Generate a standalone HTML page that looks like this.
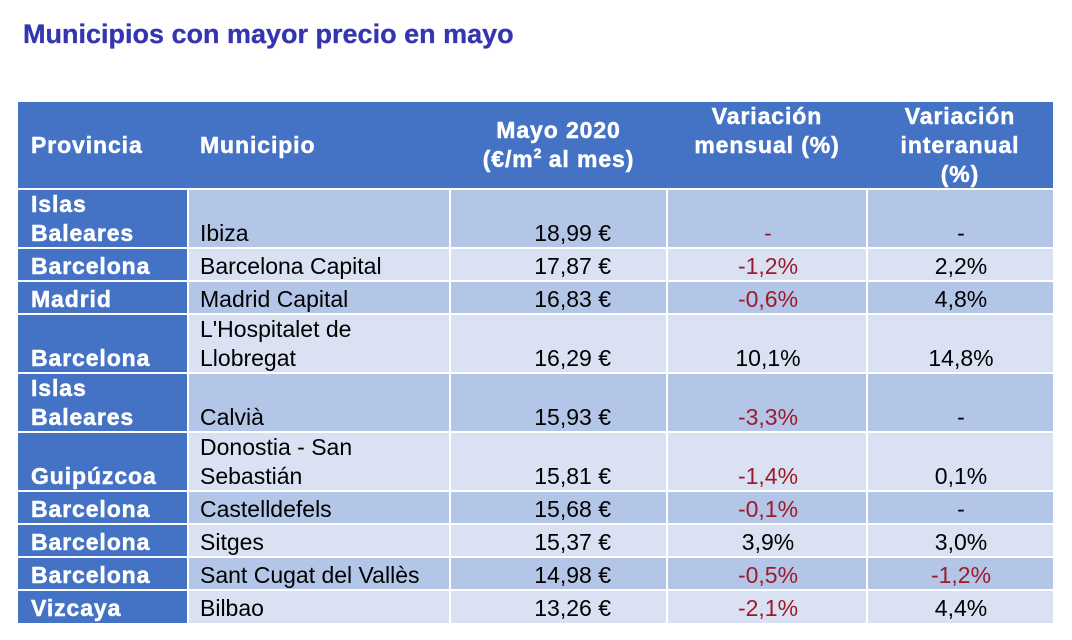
<!DOCTYPE html>
<html>
<head>
<meta charset="utf-8">
<style>
  html, body { margin:0; padding:0; }
  body { width:1072px; height:640px; background:#ffffff; position:relative; overflow:hidden;
         font-family:"Liberation Sans", Arial, sans-serif; }
  .title { position:absolute; left:23px; top:14px; font-size:27px; font-weight:bold; color:#3535B0;
           line-height:40px; white-space:nowrap; -webkit-text-stroke:0.3px #3535B0; }
  .bg { position:absolute; }
  .hl { position:absolute; left:18px; width:1035px; height:2px; background:#ffffff; }
  .vl { position:absolute; top:189px; height:434px; width:2px; background:#ffffff; }
  .c { position:absolute; display:flex; flex-direction:column; justify-content:flex-end;
       font-size:23px; line-height:29px; color:#000; white-space:nowrap; }
  .p { left:31px; width:155px; color:#fff; font-weight:bold; letter-spacing:0.9px; -webkit-text-stroke:0.5px #fff; }
  .m { left:200px; width:248px; }
  .v { left:452px; width:159px; text-align:right; }
  .a { left:669px; width:198px; text-align:center; }
  .b { left:869px; width:184px; text-align:center; }
  .r { color:#9E1A2A; }
  .h { position:absolute; color:#fff; font-weight:bold; font-size:23px; line-height:29px;
       letter-spacing:0.9px; white-space:nowrap; -webkit-text-stroke:0.5px #fff; }
  sup { font-size:14px; line-height:0; vertical-align:9px; letter-spacing:0; }
</style>
</head>
<body>
<div class="title">Municipios con mayor precio en mayo</div>

<!-- header -->
<div class="bg" style="left:18px;top:102px;width:1035px;height:87px;background:#4472C4;"></div>
<!-- first column -->
<div class="bg" style="left:18px;top:189px;width:170px;height:434px;background:#4472C4;"></div>
<!-- row backgrounds -->
<div class="bg" style="left:188px;top:189px;width:865px;height:59px;background:#B4C6E7;"></div>
<div class="bg" style="left:188px;top:248px;width:865px;height:33px;background:#D9E1F2;"></div>
<div class="bg" style="left:188px;top:281px;width:865px;height:33px;background:#B4C6E7;"></div>
<div class="bg" style="left:188px;top:314px;width:865px;height:59px;background:#D9E1F2;"></div>
<div class="bg" style="left:188px;top:373px;width:865px;height:59px;background:#B4C6E7;"></div>
<div class="bg" style="left:188px;top:432px;width:865px;height:59px;background:#D9E1F2;"></div>
<div class="bg" style="left:188px;top:491px;width:865px;height:33px;background:#B4C6E7;"></div>
<div class="bg" style="left:188px;top:524px;width:865px;height:33px;background:#D9E1F2;"></div>
<div class="bg" style="left:188px;top:557px;width:865px;height:33px;background:#B4C6E7;"></div>
<div class="bg" style="left:188px;top:590px;width:865px;height:33px;background:#D9E1F2;"></div>

<!-- grid lines -->
<div class="hl" style="top:188px;"></div>
<div class="hl" style="top:247px;"></div>
<div class="hl" style="top:280px;"></div>
<div class="hl" style="top:313px;"></div>
<div class="hl" style="top:372px;"></div>
<div class="hl" style="top:431px;"></div>
<div class="hl" style="top:490px;"></div>
<div class="hl" style="top:523px;"></div>
<div class="hl" style="top:556px;"></div>
<div class="hl" style="top:589px;"></div>
<div class="vl" style="left:187px;"></div>
<div class="vl" style="left:449px;"></div>
<div class="vl" style="left:666px;"></div>
<div class="vl" style="left:866px;"></div>

<!-- header text -->
<div class="h" style="left:31px;top:131px;">Provincia</div>
<div class="h" style="left:200px;top:131px;">Municipio</div>
<div class="h" style="left:450px;width:217px;top:116px;text-align:center;">Mayo 2020<br>(€/m<sup>2</sup> al mes)</div>
<div class="h" style="left:667px;width:200px;top:102px;text-align:center;">Variación<br>mensual (%)</div>
<div class="h" style="left:867px;width:186px;top:102px;text-align:center;">Variación<br>interanual<br>(%)</div>

<!-- row 1 -->
<div class="c p" style="top:189px;height:59px;">Islas<br>Baleares</div>
<div class="c m" style="top:189px;height:59px;"><span>Ibiza</span></div>
<div class="c v" style="top:189px;height:59px;"><span>18,99 €</span></div>
<div class="c a r" style="top:189px;height:59px;"><span>-</span></div>
<div class="c b" style="top:189px;height:59px;"><span>-</span></div>
<!-- row 2 -->
<div class="c p" style="top:248px;height:33px;"><span>Barcelona</span></div>
<div class="c m" style="top:248px;height:33px;"><span>Barcelona Capital</span></div>
<div class="c v" style="top:248px;height:33px;"><span>17,87 €</span></div>
<div class="c a r" style="top:248px;height:33px;"><span>-1,2%</span></div>
<div class="c b" style="top:248px;height:33px;"><span>2,2%</span></div>
<!-- row 3 -->
<div class="c p" style="top:281px;height:33px;"><span>Madrid</span></div>
<div class="c m" style="top:281px;height:33px;"><span>Madrid Capital</span></div>
<div class="c v" style="top:281px;height:33px;"><span>16,83 €</span></div>
<div class="c a r" style="top:281px;height:33px;"><span>-0,6%</span></div>
<div class="c b" style="top:281px;height:33px;"><span>4,8%</span></div>
<!-- row 4 -->
<div class="c p" style="top:314px;height:59px;"><span>Barcelona</span></div>
<div class="c m" style="top:314px;height:59px;"><span>L'Hospitalet de<br>Llobregat</span></div>
<div class="c v" style="top:314px;height:59px;"><span>16,29 €</span></div>
<div class="c a" style="top:314px;height:59px;"><span>10,1%</span></div>
<div class="c b" style="top:314px;height:59px;"><span>14,8%</span></div>
<!-- row 5 -->
<div class="c p" style="top:373px;height:59px;">Islas<br>Baleares</div>
<div class="c m" style="top:373px;height:59px;"><span>Calvià</span></div>
<div class="c v" style="top:373px;height:59px;"><span>15,93 €</span></div>
<div class="c a r" style="top:373px;height:59px;"><span>-3,3%</span></div>
<div class="c b" style="top:373px;height:59px;"><span>-</span></div>
<!-- row 6 -->
<div class="c p" style="top:432px;height:59px;"><span>Guipúzcoa</span></div>
<div class="c m" style="top:432px;height:59px;"><span>Donostia - San<br>Sebastián</span></div>
<div class="c v" style="top:432px;height:59px;"><span>15,81 €</span></div>
<div class="c a r" style="top:432px;height:59px;"><span>-1,4%</span></div>
<div class="c b" style="top:432px;height:59px;"><span>0,1%</span></div>
<!-- row 7 -->
<div class="c p" style="top:491px;height:33px;"><span>Barcelona</span></div>
<div class="c m" style="top:491px;height:33px;"><span>Castelldefels</span></div>
<div class="c v" style="top:491px;height:33px;"><span>15,68 €</span></div>
<div class="c a r" style="top:491px;height:33px;"><span>-0,1%</span></div>
<div class="c b" style="top:491px;height:33px;"><span>-</span></div>
<!-- row 8 -->
<div class="c p" style="top:524px;height:33px;"><span>Barcelona</span></div>
<div class="c m" style="top:524px;height:33px;"><span>Sitges</span></div>
<div class="c v" style="top:524px;height:33px;"><span>15,37 €</span></div>
<div class="c a" style="top:524px;height:33px;"><span>3,9%</span></div>
<div class="c b" style="top:524px;height:33px;"><span>3,0%</span></div>
<!-- row 9 -->
<div class="c p" style="top:557px;height:33px;"><span>Barcelona</span></div>
<div class="c m" style="top:557px;height:33px;"><span>Sant Cugat del Vallès</span></div>
<div class="c v" style="top:557px;height:33px;"><span>14,98 €</span></div>
<div class="c a r" style="top:557px;height:33px;"><span>-0,5%</span></div>
<div class="c b r" style="top:557px;height:33px;"><span>-1,2%</span></div>
<!-- row 10 -->
<div class="c p" style="top:590px;height:33px;"><span>Vizcaya</span></div>
<div class="c m" style="top:590px;height:33px;"><span>Bilbao</span></div>
<div class="c v" style="top:590px;height:33px;"><span>13,26 €</span></div>
<div class="c a r" style="top:590px;height:33px;"><span>-2,1%</span></div>
<div class="c b" style="top:590px;height:33px;"><span>4,4%</span></div>
</body>
</html>
